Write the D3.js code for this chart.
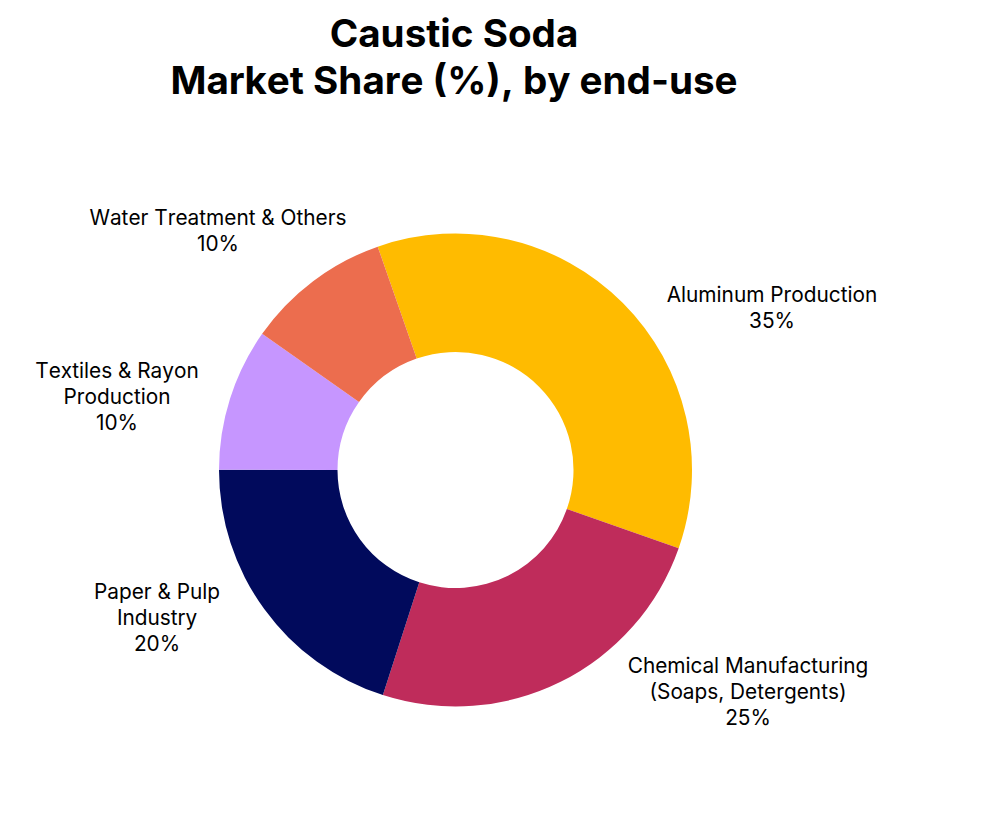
<!DOCTYPE html>
<html>
<head>
<meta charset="utf-8">
<script src="https://cdnjs.cloudflare.com/ajax/libs/d3/7.8.5/d3.min.js"></script>
<style>
  html, body { margin: 0; padding: 0; background: #fff; }
  text { font-family: Inter, "Noto Sans", sans-serif; fill: #000; font-kerning: none; }
</style>
</head>
<body>
<svg id="chart" width="994" height="817"></svg>
<script>
// chart data, clockwise from the top of the ring start
const categories = ["Aluminum Production", "Chemical Manufacturing", "Paper & Pulp", "Textiles & Rayon", "Water Treatment & Others"];
// slice sizes as measured on the ring, the printed labels round them
const shares = [35.7, 24.6, 20.05, 9.75, 9.9];
const colors = ["#ffbb00", "#bf2c5b", "#010a5c", "#c696ff", "#ec6d4e"];
const labelLines = [
  ["Aluminum Production", "35%"],
  ["Chemical Manufacturing", "(Soaps, Detergents)", "25%"],
  ["Paper & Pulp", "Industry", "20%"],
  ["Textiles & Rayon", "Production", "10%"],
  ["Water Treatment & Others", "10%"]
];
const titleLines = ["Caustic Soda", "Market Share (%), by end-use"];

const svg = d3.select("#chart");
const cx = 455.5, cy = 470, outer = 236.5, inner = 118;

// title
svg.append("g").selectAll("text")
  .data(titleLines)
  .enter().append("text")
  .attr("x", 454)
  .attr("y", (d, i) => 47 + i * 47)
  .attr("text-anchor", "middle")
  .attr("font-size", 38.6)
  .attr("font-weight", 700)
  .text(d => d);

// ring starts at the edge between water treatment and aluminum
const startAngle = -19.2 * Math.PI / 180;
const pie = d3.pie().sort(null)
  .startAngle(startAngle)
  .endAngle(startAngle + 2 * Math.PI);
const arc = d3.arc().innerRadius(inner).outerRadius(outer);

const ring = svg.append("g").attr("transform", "translate(" + cx + "," + cy + ")");
const arcs = pie(shares);

ring.selectAll("path")
  .data(arcs)
  .enter().append("path")
  .attr("d", arc)
  .attr("fill", (d, i) => colors[i]);

// label anchors: centre x and first baseline of each block
const labelX = [772, 748, 157, 117, 218];
const labelY = [302, 673, 599, 378, 225];
const lineHeight = 26;

const labels = svg.append("g").selectAll("text")
  .data(arcs)
  .enter().append("text")
  .attr("text-anchor", "middle")
  .attr("font-size", 20.8)
  .attr("transform", (d, i) => "translate(" + labelX[i] + "," + labelY[i] + ")");

labels.selectAll("tspan")
  .data((d, i) => labelLines[i])
  .enter().append("tspan")
  .attr("x", 0)
  .attr("y", (d, i) => i * lineHeight)
  .text(d => d);
</script>
</body>
</html>
